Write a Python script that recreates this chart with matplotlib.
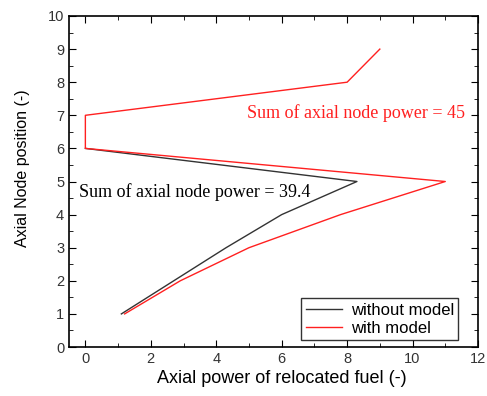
import matplotlib.pyplot as plt
from matplotlib.ticker import MultipleLocator

plt.rcParams['font.family'] = ['Liberation Sans', 'DejaVu Sans']

node = [1, 2, 3, 4, 5, 6, 7, 8, 9]
powerNoModel = [1.1, 2.7, 4.3, 6.0, 8.3, 0.0, 0.0, 8.0, 9.0]
powerModel = [1.2, 2.9, 5.0, 7.8, 11.0, 0.0, 0.0, 8.0, 9.0]
sumNoModel = 39.4
sumModel = 45

fig = plt.figure(figsize=(4.87, 3.96), dpi=100)
ax = fig.add_axes([0.1417, 0.1237, 0.8398, 0.8359])

# upper part of the black curve sits under the red one, so stop it at node 6
ax.plot(powerNoModel[:6], node[:6], color='#333333', lw=1, label='without model')
ax.plot(powerModel, node, color='#ff2020', lw=1, label='with model')

ax.text(-0.19, 4.68, 'Sum of axial node power = %s' % sumNoModel, va='center',
        family='Liberation Serif', fontsize=13, color='black')
ax.text(4.93, 7.07, 'Sum of axial node power = %s' % sumModel, va='center',
        family='Liberation Serif', fontsize=13, color='#ff2020')

ax.set_xlim(-0.5, 12)
ax.set_ylim(0, 10)
ax.xaxis.set_major_locator(MultipleLocator(2))
ax.xaxis.set_minor_locator(MultipleLocator(1))
ax.yaxis.set_major_locator(MultipleLocator(1))
ax.yaxis.set_minor_locator(MultipleLocator(0.5))
ax.tick_params(which='both', direction='in', top=True, right=True, labelsize=10.5,
               labelcolor='#333333')
ax.tick_params(which='major', length=5)
ax.tick_params(which='minor', length=3)
for s in ax.spines.values():
    s.set_linewidth(1.2)

ax.set_xlabel('Axial power of relocated fuel (-)', fontsize=13)
ax.set_ylabel('Axial Node position (-)', fontsize=11.5)
ax.xaxis.set_label_coords(0.52, -0.069)
ax.yaxis.set_label_coords(-0.095, 0.54)

leg = ax.legend(loc='lower right', bbox_to_anchor=(0.951, 0.021), fontsize=12,
                fancybox=False, edgecolor='black', borderaxespad=0, borderpad=0.25,
                labelspacing=0.2, handlelength=2.2, handletextpad=0.5)
leg.get_frame().set_linewidth(1)

plt.savefig('out.png')
